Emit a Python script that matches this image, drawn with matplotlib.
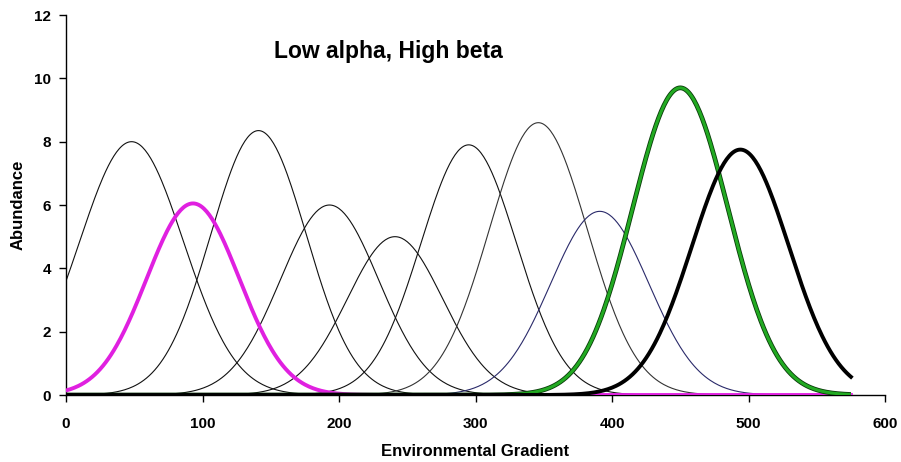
import numpy as np
import matplotlib
matplotlib.use("Agg")
import matplotlib.pyplot as plt
import matplotlib.patheffects as pe

# Species response curves (Gaussian parameters)
centers = [48, 93, 141, 193, 241, 295, 346, 391, 450, 494]
heights = [8.0, 6.05, 8.35, 6.0, 5.0, 7.9, 8.6, 5.8, 9.7, 7.75]
widths = [38, 34, 35, 36, 35, 35, 36, 36, 35, 35.5]
colors = ["#111111", "#e020e0", "#111111", "#111111", "#111111", "#111111",
          "#333333", "#2a2a6a", "#22aa22", "#000000"]
thick = [False, True, False, False, False, False, False, False, True, True]
gradient_min, gradient_max = 0, 575

title = "Low alpha, High beta"
xlabel = "Environmental Gradient"
ylabel = "Abundance"
xticks = [0, 100, 200, 300, 400, 500, 600]
yticks = [0, 2, 4, 6, 8, 10, 12]

plt.rcParams['font.family'] = ['Liberation Sans', 'DejaVu Sans']
fig = plt.figure(figsize=(9.01, 4.62), dpi=100)
ax = fig.add_axes([0.0733, 0.145, 0.909, 0.8225])

x = np.linspace(gradient_min, gradient_max, 576)
order = [i for i in range(len(centers)) if not thick[i]] + [i for i in range(len(centers)) if thick[i]]
for i in order:
    y = heights[i] * np.exp(-((x - centers[i]) ** 2) / (2 * widths[i] ** 2))
    if thick[i]:
        if colors[i] == "#22aa22":
            ax.plot(x, y, color=colors[i], lw=2.2, solid_capstyle='butt',
                    path_effects=[pe.Stroke(linewidth=3.4, foreground="#0a3a0a"), pe.Normal()], zorder=3)
        else:
            ax.plot(x, y, color=colors[i], lw=2.8, zorder=3)
    else:
        ax.plot(x, y, color=colors[i], lw=0.8, zorder=2)

ax.set_xlim(0, 600)
ax.set_ylim(0, 12)
ax.set_xticks(xticks)
ax.set_yticks(yticks)
ax.tick_params(axis='both', direction='out', length=5, width=1, labelsize=11)
ax.tick_params(axis='x', pad=11)
ax.tick_params(axis='y', pad=6)
for lab in ax.get_xticklabels() + ax.get_yticklabels():
    lab.set_fontweight('bold')
for s in ['top', 'right']:
    ax.spines[s].set_visible(False)
for s in ['left', 'bottom']:
    ax.spines[s].set_linewidth(1.0)
ax.set_xlabel(xlabel, fontsize=12, fontweight='bold', labelpad=9)
ax.set_ylabel(ylabel, fontsize=12, fontweight='bold', labelpad=6)
ax.text(0.393, 0.905, title, transform=ax.transAxes, ha='center', va='center',
        fontsize=16.5, fontweight='bold')

fig.savefig("out.png", dpi=100)
